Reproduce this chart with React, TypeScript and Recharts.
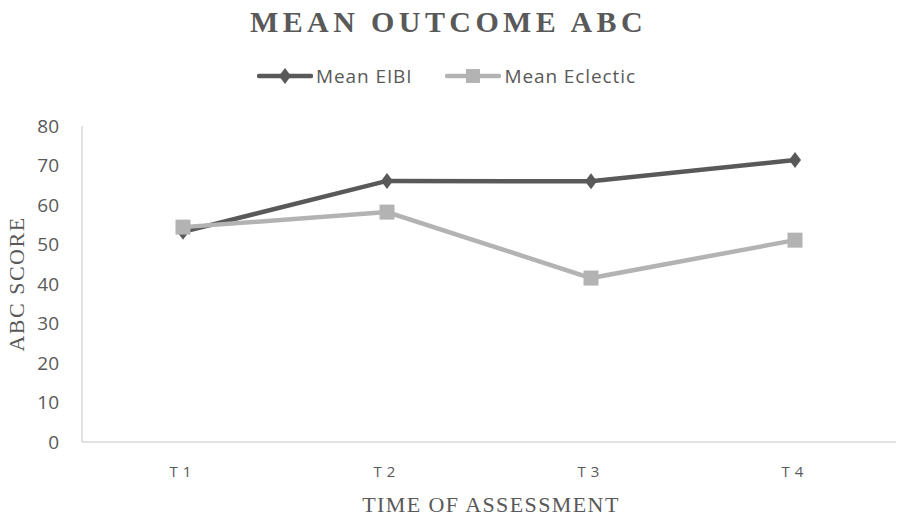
import React from 'react';
import { LineChart, Line, XAxis, YAxis } from 'recharts';

const times = ['T1', 'T2', 'T3', 'T4'];
const meanEibi = [53.2, 66.1, 66.0, 71.4];
const meanEclectic = [54.4, 58.2, 41.5, 51.1];
const yTicks = [0, 10, 20, 30, 40, 50, 60, 70, 80];

const data = times.map((t, i) => ({ time: t, eibi: meanEibi[i], eclectic: meanEclectic[i] }));

const DARK = '#595959';
const LIGHT = '#b3b3b3';
const SANS = 'Open Sans, sans-serif';
const SERIF = 'Liberation Serif, Times New Roman, serif';

const Diamond = (props: any) => {
  const { cx, cy } = props;
  if (cx == null || cy == null) return null;
  return <path d={`M${cx},${cy - 8} L${cx + 6},${cy} L${cx},${cy + 8} L${cx - 6},${cy} Z`} fill={DARK} />;
};

const Square = (props: any) => {
  const { cx, cy } = props;
  if (cx == null || cy == null) return null;
  return <rect x={cx - 7.5} y={cy - 7.5} width={15} height={15} fill={LIGHT} />;
};

// axis titles placed relative to the axis boxes
const YTitle = (props: any) => {
  const { viewBox } = props;
  const cx = 16;
  const cy = viewBox.y + viewBox.height / 2;
  return (
    <text x={cx} y={cy} transform={`rotate(-90 ${cx} ${cy})`} textAnchor="middle" dominantBaseline="central"
      fill={DARK} fontSize={22} fontFamily={SERIF} letterSpacing={1.5}>
      ABC SCORE
    </text>
  );
};

const XTitle = (props: any) => {
  const { viewBox } = props;
  return (
    <text x={viewBox.x + viewBox.width / 2 + 2} y={viewBox.y + 70} textAnchor="middle"
      fill={DARK} fontSize={22} fontFamily={SERIF} letterSpacing={1.4}>
      TIME OF ASSESSMENT
    </text>
  );
};

const LegendRow = () => (
  <div style={{ position: 'absolute', top: 63, left: 0, width: 897, display: 'flex', justifyContent: 'center', alignItems: 'center', fontFamily: SANS, fontSize: 19, letterSpacing: 0.9, color: DARK, paddingRight: 4, boxSizing: 'border-box' }}>
    <svg width={56} height={18}>
      <line x1={2} y1={9} x2={54} y2={9} stroke={DARK} strokeWidth={4.5} strokeLinecap="round" />
      <path d="M28,1 L34,9 L28,17 L22,9 Z" fill={DARK} />
    </svg>
    <span style={{ marginRight: 33, marginLeft: 3 }}>Mean EIBI</span>
    <svg width={56} height={18}>
      <line x1={2} y1={9} x2={54} y2={9} stroke={LIGHT} strokeWidth={4.5} strokeLinecap="round" />
      <rect x={21} y={2} width={14} height={14} fill={LIGHT} />
    </svg>
    <span style={{ marginLeft: 3 }}>Mean Eclectic</span>
  </div>
);

const App = () => {
  return (
    <div style={{ position: 'relative', width: 897, height: 517, background: '#fff' }}>
      <style>{'body{margin:0}'}</style>
      <div
        style={{
          position: 'absolute', top: 4, left: 0, width: 897, textAlign: 'center',
          fontFamily: SERIF, fontWeight: 'bold', fontSize: 30, letterSpacing: 4.4, color: DARK, lineHeight: '36px',
        }}
      >
        MEAN OUTCOME ABC
      </div>
      <LegendRow />
      <LineChart width={897} height={517} data={data} margin={{ top: 126, right: 1, bottom: 45, left: 0 }}>
        <XAxis
          dataKey="time"
          height={30}
          padding={{ left: 101, right: 101 }}
          axisLine={{ stroke: '#d9d9d9', strokeWidth: 1.5 }}
          tickLine={false}
          tick={{ fill: DARK, fontSize: 15, fontFamily: SANS, letterSpacing: 5 }}
          tickMargin={18}
          label={<XTitle />}
        />
        <YAxis
          domain={[0, 80]}
          ticks={yTicks}
          width={82}
          axisLine={{ stroke: '#d9d9d9', strokeWidth: 1.5 }}
          tickLine={false}
          tickMargin={17}
          tick={{ fill: DARK, fontSize: 19, fontFamily: SANS }}
          label={<YTitle />}
        />
        <Line dataKey="eibi" name="Mean EIBI" stroke={DARK} strokeWidth={4.5} dot={<Diamond />} activeDot={false} isAnimationActive={false} />
        <Line dataKey="eclectic" name="Mean Eclectic" stroke={LIGHT} strokeWidth={4.5} dot={<Square />} activeDot={false} isAnimationActive={false} />
      </LineChart>
    </div>
  );
};

export default App;
